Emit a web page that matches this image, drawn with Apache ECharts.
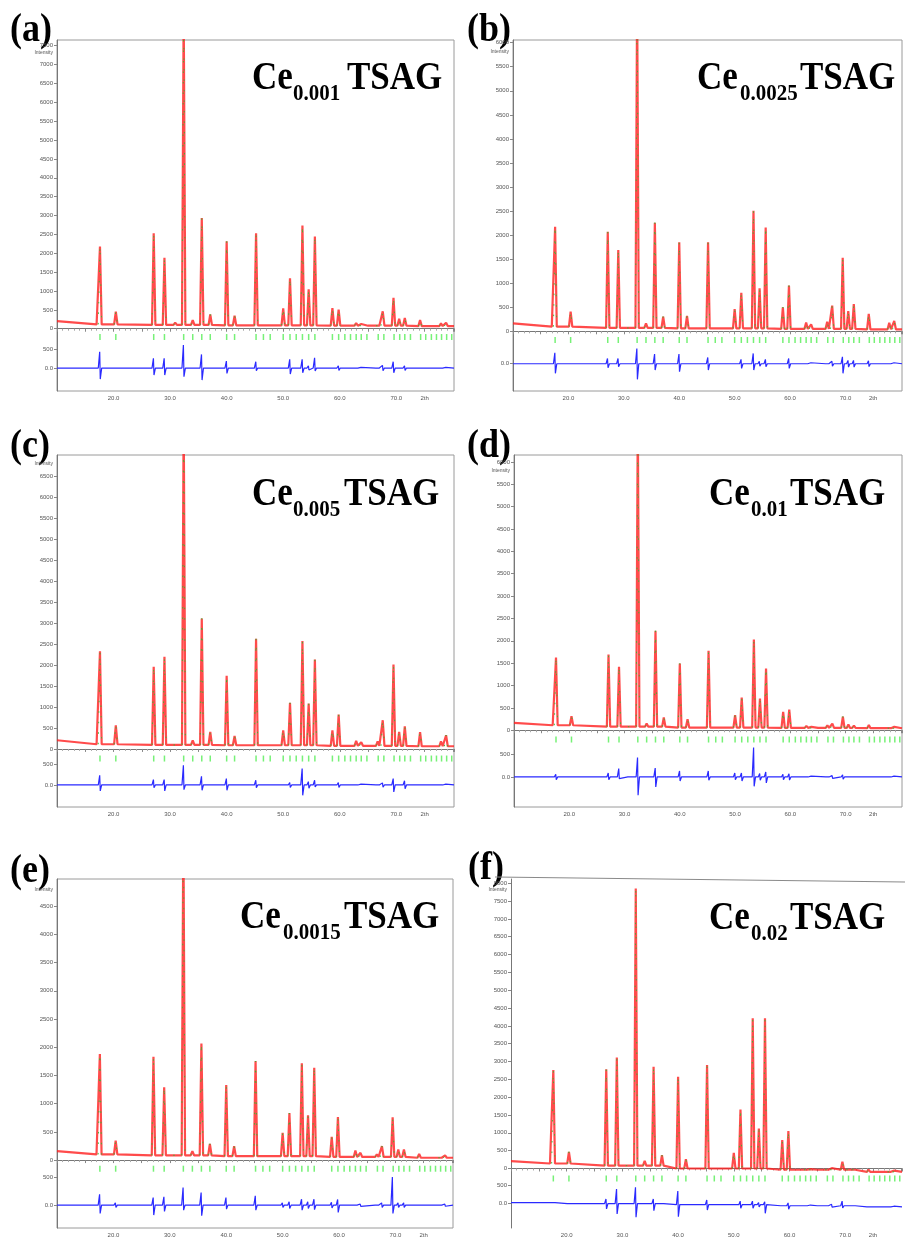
<!DOCTYPE html>
<html>
<head>
<meta charset="utf-8">
<script src="https://cdn.jsdelivr.net/npm/echarts@6/dist/echarts.min.js"></script>
<style>
  html, body { margin: 0; padding: 0; background: #fff; }
  #chart-container { width: 905px; height: 1238px; }
</style>
</head>
<body>
<div id="chart-container"></div>
<script>
// Rietveld refinement plots, six Ce-doped TSAG samples

// 2theta of the reflections (peak tops) and of the Bragg markers
var peakPos = [17.6, 20.4, 27.1, 29.0, 30.9, 32.4, 34.0, 35.6, 37.1, 40.0, 41.4, 45.2, 50.0, 51.2, 53.4,
  54.5, 55.6, 58.7, 59.8, 62.9, 63.8, 66.7, 67.6, 69.5, 70.5, 71.5, 74.2, 77.9, 78.8];
var braggPos = [17.6, 20.4, 27.1, 29.0, 32.4, 34.0, 35.6, 37.1, 40.0, 41.4, 45.2, 46.5, 47.7, 50.0, 51.2,
  52.3, 53.4, 54.5, 55.6, 58.7, 59.8, 60.9, 61.9, 62.9, 63.8, 64.8, 66.8, 67.8, 69.6, 70.6, 71.5, 72.5,
  74.3, 75.2, 76.2, 77.1, 78.0, 78.9, 79.8];
var yTickVals = [0, 500, 1000, 1500, 2000, 2500, 3000, 3500, 4000, 4500, 5000, 5500, 6000, 6500, 7000, 7500, 8000];
var xTickLabels = { 20: "20.0", 30: "30.0", 40: "40.0", 50: "50.0", 60: "60.0", 70: "70.0", 75: "2th" };

// (a) Ce0.001
var obsA = [2175, 450, 2530, 1880, 160, 8500, 230, 2935, 380, 2316, 345, 2529, 540, 1335, 2732,
  1043, 2440, 548, 504, 150, 124, 130, 460, 822, 265, 283, 230, 140, 160];
var bgA = [[10, 203], [17, 115], [30, 100], [48, 90], [65, 80], [80.2, 70]];
var upA = [433, 40, 256, 256, 50, 610, 30, 362, 30, 186, 30, 168, 30, 230, 230, 60, 274, 40, 60, 20, 20, 20, 70, 168, 40, 60, 30, 20, 20];
var downA = [292, 40, 186, 186, 30, 230, 30, 318, 30, 141, 30, 70, 30, 160, 124, 50, 80, 30, 60, 20, 20, 20, 70, 124, 40, 60, 30, 20, 20];

// (b) Ce0.0025
var obsB = [2175, 410, 2070, 1690, 110, 7000, 166, 2258, 305, 1850, 320, 1850, 464, 803, 2507,
  893, 2160, 500, 950, 180, 145, 200, 533, 1530, 422, 568, 360, 180, 215];
var bgB = [[10, 166], [17, 97], [30, 70], [48, 62], [65, 50], [80.2, 42]];
var upB = [228, 30, 110, 110, 40, 318, 30, 200, 30, 200, 40, 131, 40, 90, 214, 50, 90, 30, 110, 20, 20, 20, 50, 145, 70, 70, 60, 20, 20];
var downB = [200, 30, 83, 62, 30, 325, 30, 131, 30, 166, 40, 131, 40, 97, 131, 50, 62, 30, 97, 20, 20, 20, 50, 200, 70, 70, 60, 20, 20];

// (c) Ce0.005
var obsC = [2330, 566, 1960, 2200, 130, 8000, 207, 3115, 406, 1745, 310, 2630, 446, 1100, 2574,
  1084, 2135, 446, 820, 190, 160, 183, 685, 2016, 406, 540, 400, 183, 327];
var bgC = [[10, 207], [17, 112], [30, 95], [48, 88], [65, 75], [80.2, 64]];
var upC = [231, 30, 127, 127, 40, 470, 30, 207, 30, 151, 30, 112, 30, 60, 390, 80, 112, 30, 60, 20, 20, 20, 50, 151, 40, 100, 30, 20, 20];
var downC = [143, 30, 64, 143, 30, 112, 30, 127, 30, 127, 30, 64, 30, 60, 247, 80, 48, 30, 60, 20, 20, 20, 50, 167, 40, 90, 30, 20, 20];

// (d) Ce0.01
var obsD = [1627, 313, 1694, 1418, 90, 7000, 149, 2224, 284, 1493, 246, 1776, 336, 731, 2030,
  709, 1380, 410, 463, 97, 75, 112, 149, 306, 127, 105, 120, 67, 75];
var bgD = [[10, 164], [17, 112], [30, 80], [48, 60], [65, 52], [80.2, 45]];
var upD = [60, 40, 90, 187, 30, 433, 30, 201, 30, 134, 30, 134, 90, 90, 657, 75, 112, 60, 70, 20, 20, 20, 30, 50, 30, 30, 20, 20, 20];
var downD = [60, 40, 60, 37, 30, 410, 30, 224, 30, 90, 30, 75, 60, 90, 209, 75, 134, 60, 70, 20, 20, 20, 30, 50, 30, 30, 20, 20, 20];

// (e) Ce0.0015
var obsE = [1878, 346, 1831, 1291, 90, 6000, 158, 2066, 288, 1332, 246, 1755, 481, 833, 1714,
  792, 1637, 411, 763, 170, 129, 100, 246, 757, 188, 188, 111, 70, 82];
var bgE = [[10, 158], [17, 100], [30, 85], [48, 70], [65, 55], [80.2, 41]];
var upE = [194, 40, 135, 147, 30, 311, 30, 223, 30, 135, 30, 164, 40, 60, 106, 60, 106, 50, 100, 20, 20, 20, 40, 499, 40, 40, 30, 20, 20];
var downE = [147, 40, 176, 111, 30, 88, 30, 188, 30, 70, 30, 88, 40, 60, 88, 60, 80, 50, 129, 20, 20, 20, 40, 147, 40, 40, 30, 20, 20];

// (f) Ce0.02
var obsF = [2760, 468, 2780, 3115, 110, 7850, 215, 2853, 374, 2572, 262, 2900, 440, 1656, 4210,
  1123, 4210, 795, 1048, 20, -20, 10, 10, 187, -20, -25, -30, -60, -60];
var bgF = [[10, 206], [17, 140], [30, 80], [48, 0], [65, -35], [80.2, -94]];
var upF = [40, 20, 131, 411, 30, 458, 30, 131, 30, 383, 30, 131, 30, 100, 100, 60, 80, 50, 80, 20, 20, 20, 40, 131, 30, 30, 20, 20, 20];
var downF = [40, 20, 150, 290, 30, 383, 30, 196, 30, 336, 30, 150, 30, 100, 100, 60, 243, 50, 100, 20, 20, 20, 40, 60, 30, 30, 20, 20, 20];

var zeroFlat = [[10, 0], [80.2, 0]];
var zeroF = [[10, 19], [30, -10], [48, -40], [65, -70], [80.2, -103]];

var panelLetters = ["(a)", "(b)", "(c)", "(d)", "(e)", "(f)"];
var subscripts = ["0.001", "0.0025", "0.005", "0.01", "0.0015", "0.02"];

// layout of each panel (pixels) and its axis window
var panels = [
  { obs: obsA, bg: bgA, up: upA, down: downA, zero: zeroFlat, left: 57, top: 40, width: 397, height: 351, min: -1650, max: 7650, off: 1042, yTop: 7500, diffLab: [0, 500], bragg: -220,
    lx: 10, ly: 42, cx: 252, sx: 293, tx: 347, base: 90, intY: 53 },
  { obs: obsB, bg: bgB, up: upB, down: downB, zero: zeroFlat, left: 513, top: 40, width: 397, height: 351, min: -1241, max: 6056, off: 674, yTop: 6000, diffLab: [0], bragg: -181,
    lx: 467, ly: 42, cx: 697, sx: 740, tx: 800, base: 90, intY: 52 },
  { obs: obsC, bg: bgC, up: upC, down: downC, zero: zeroFlat, left: 57, top: 455, width: 397, height: 352, min: -1386, max: 7018, off: 860, yTop: 6500, diffLab: [0, 500], bragg: -229,
    lx: 10, ly: 458, cx: 252, sx: 293, tx: 344, base: 506, intY: 464 },
  { obs: obsD, bg: bgD, up: upD, down: downD, zero: zeroFlat, left: 514, top: 455, width: 397, height: 352, min: -1717, max: 6156, off: 1045, yTop: 6000, diffLab: [0, 500], bragg: -208,
    lx: 467, ly: 458, cx: 709, sx: 751, tx: 790, base: 506, intY: 471 },
  { obs: obsE, bg: bgE, up: upE, down: downE, zero: zeroFlat, left: 57, top: 879, width: 396, height: 352, min: -1204, max: 4982, off: 799, yTop: 4500, diffLab: [0, 500], bragg: -153,
    lx: 10, ly: 883, cx: 240, sx: 283, tx: 344, base: 929, intY: 890 },
  { obs: obsF, bg: bgF, up: upF, down: downF, zero: zeroF, left: 511, top: 879, width: 395, height: 349, min: -1669, max: 8118, off: 975, yTop: 8000, diffLab: [0, 500], bragg: -280,
    lx: 468, ly: 880, cx: 709, sx: 751, tx: 790, base: 930, intY: 890 }
];

function nearest(list, x) {
  var best = list[0];
  list.forEach(function (p) { if (Math.abs(p[0] - x) < Math.abs(best[0] - x)) best = p; });
  return best[1];
}
function byX(a, b) { return a[0] - b[0]; }

function obsLine(p) {
  var pts = p.bg.slice();
  peakPos.forEach(function (x, i) {
    var b = nearest(p.bg, x);
    pts.push([x - 0.3, b], [x, p.obs[i]], [x + 0.3, b]);
  });
  return pts.sort(byX);
}
function calcLine(p) {
  var pts = [];
  peakPos.forEach(function (x, i) {
    var b = nearest(p.bg, x);
    pts.push([x - 0.3, b], [x, p.obs[i]], [x + 0.3, b], [x + 0.35, null]);
  });
  return pts;
}
function diffLine(p) {
  var pts = p.zero.slice();
  peakPos.forEach(function (x, i) {
    var z = nearest(p.zero, x);
    pts.push([x - 0.3, z], [x - 0.05, z + p.up[i]], [x + 0.05, z - p.down[i]], [x + 0.3, z]);
  });
  return pts.sort(byX);
}

var grids = [], xAxes = [], yAxes = [], series = [], graphics = [];
var serif = '"Liberation Serif", "Times New Roman", serif';
var plain = function (v) { return String(v); };

panels.forEach(function (p, i) {
  var isF = i === 5;
  grids.push({ left: p.left, top: p.top, width: p.width, height: p.height,
    show: !isF, borderColor: "#9a9a9a", borderWidth: 1, backgroundColor: "#fff" });
  xAxes.push({
    gridIndex: i, type: "value", min: 10, max: 80.2, interval: 5,
    axisLine: { lineStyle: { color: "#777" } },
    axisTick: { length: 3, lineStyle: { color: "#888" } },
    minorTick: { show: true, splitNumber: 5, length: 2, lineStyle: { color: "#aaa" } },
    splitLine: { show: false },
    axisLabel: { fontSize: 6, color: "#555", margin: 4, fontFamily: "Liberation Sans",
      formatter: function (v) { return xTickLabels[v] || ""; } }
  });
  var ticks = yTickVals.filter(function (v) { return v <= p.yTop; });
  yAxes.push({
    gridIndex: i, type: "value", min: p.min, max: p.max,
    axisLine: { show: true, lineStyle: { color: "#777" } },
    axisTick: { show: true, length: 3, customValues: ticks, lineStyle: { color: "#888" } },
    splitLine: { show: false },
    axisLabel: { fontSize: 6, color: "#555", margin: 4, fontFamily: "Liberation Sans", customValues: ticks, formatter: plain }
  });
  yAxes.push({
    gridIndex: i, type: "value", min: p.min + p.off, max: p.max + p.off,
    position: "left",
    axisLine: { show: false },
    axisTick: { show: true, length: 3, customValues: p.diffLab, lineStyle: { color: "#888" } },
    splitLine: { show: false },
    axisLabel: { fontSize: 6, color: "#555", margin: 4, fontFamily: "Liberation Sans", customValues: p.diffLab,
      formatter: function (v) { return v === 0 ? "0.0" : String(v); } }
  });

  series.push({
    type: "line", xAxisIndex: i, yAxisIndex: 2 * i, data: obsLine(p), showSymbol: false,
    lineStyle: { color: "rgba(255, 30, 30, 0.8)", width: 2.2 }, z: 3, silent: true
  });
  series.push({
    type: "line", xAxisIndex: i, yAxisIndex: 2 * i, data: calcLine(p), showSymbol: false,
    connectNulls: false, lineStyle: { color: "#2fbf2f", width: 1, type: [1.5, 9], opacity: 0.9 }, z: 4, silent: true
  });
  series.push({
    type: "scatter", xAxisIndex: i, yAxisIndex: 2 * i, symbol: "rect", symbolSize: [1.5, 6],
    itemStyle: { color: "#55ee55" }, silent: true,
    data: braggPos.map(function (x) { return [x, p.bragg]; })
  });
  series.push({
    type: "line", xAxisIndex: i, yAxisIndex: 2 * i + 1, data: diffLine(p), showSymbol: false,
    lineStyle: { color: "#2a2aff", width: 1.2 }, z: 3, silent: true
  });

  graphics.push(
    { type: "text", x: p.lx, y: p.ly + 9, scaleY: 1.1,
      style: { text: panelLetters[i], font: "bold 36px " + serif, fill: "#000", textVerticalAlign: "bottom" } },
    { type: "text", x: p.cx, y: p.base + 8, scaleY: 1.12,
      style: { text: "Ce", font: "bold 35px " + serif, fill: "#000", textVerticalAlign: "bottom" } },
    { type: "text", x: p.sx, y: p.base + 15, scaleY: 1.05,
      style: { text: subscripts[i], font: "bold 21px " + serif, fill: "#000", textVerticalAlign: "bottom" } },
    { type: "text", x: p.tx, y: p.base + 8, scaleY: 1.12,
      style: { text: "TSAG", font: "bold 35px " + serif, fill: "#000", textVerticalAlign: "bottom" } },
    { type: "text", x: p.left - 4, y: p.intY,
      style: { text: "Intensity", font: "5px Liberation Sans", fill: "#555", textAlign: "right", textVerticalAlign: "middle" } }
  );
});

// photographed panel (f): slanted top edge
graphics.push({ type: "line", shape: { x1: 495, y1: 877, x2: 905, y2: 882 }, style: { stroke: "#8a8a8a", lineWidth: 1.2 } });

var chartDom = document.getElementById("chart-container");
var myChart = echarts.init(chartDom, null, { renderer: "canvas" });
myChart.setOption({
  animation: false,
  backgroundColor: "#fff",
  grid: grids,
  xAxis: xAxes,
  yAxis: yAxes,
  series: series,
  graphic: graphics
});
</script>
</body>
</html>
